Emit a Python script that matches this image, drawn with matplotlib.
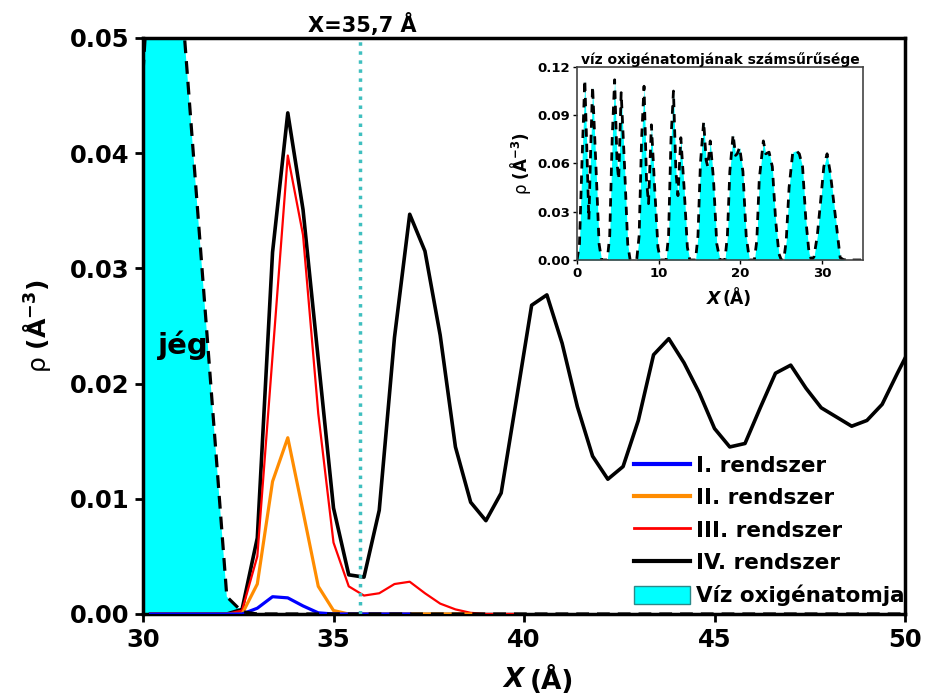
import numpy as np
import matplotlib
matplotlib.use('Agg')
from matplotlib import pyplot as plt
from matplotlib.lines import Line2D
from matplotlib.patches import Patch

# --- adatok (leolvasva) ---
x_grid = np.round(np.arange(30.2, 50.21, 0.4), 1)

rho_IV = [0, 0, 0, 0, 0, 0, 0.0004, 0.0066, 0.0314, 0.0435, 0.0351, 0.0221, 0.0092,
          0.0034, 0.0032, 0.0090, 0.0240, 0.0347, 0.0315, 0.0242, 0.0145, 0.0097, 0.0081,
          0.0105, 0.0186, 0.0268, 0.0277, 0.0235, 0.0180, 0.0137, 0.0117, 0.0128, 0.0168,
          0.0225, 0.0239, 0.0218, 0.0192, 0.0161, 0.0145, 0.0148, 0.0179, 0.0209, 0.0216,
          0.0196, 0.0179, 0.0171, 0.0163, 0.0168, 0.0182, 0.0209, 0.0235]
rho_III = [0, 0, 0, 0, 0, 0, 0.0003, 0.0050, 0.0224, 0.0398, 0.0329, 0.0174, 0.0062,
           0.0024, 0.0016, 0.0018, 0.0026, 0.0028, 0.0018, 0.0009, 0.0004, 0.0001, 0, 0, 0]
rho_II = [0, 0, 0, 0, 0, 0, 0, 0.0026, 0.0115, 0.0153, 0.0089, 0.0024, 0.0003,
          0, 0, 0, 0, 0, 0, 0, 0, 0]
rho_I = [0, 0, 0, 0, 0, 0, 0, 0.0005, 0.0015, 0.0014, 0.0007, 0.0001, 0, 0, 0, 0, 0, 0]

# jég (víz oxigénatomjainak számsűrűsége)
ice_x = [0.0, 0.3, 0.6, 0.95, 1.25, 1.45, 1.65, 1.9, 2.3, 2.7, 3.0,
         3.7, 4.0, 4.3, 4.6, 4.9, 5.1, 5.4, 5.8, 6.2, 6.5,
         7.3, 7.6, 7.9, 8.2, 8.5, 8.75, 9.1, 9.5, 9.9, 10.2,
         10.9, 11.2, 11.5, 11.8, 12.1, 12.35, 12.7, 13.1, 13.5, 13.8,
         14.5, 14.8, 15.1, 15.5, 15.8, 16.0, 16.3, 16.7, 17.1, 17.5,
         18.1, 18.4, 18.7, 19.1, 19.4, 19.6, 19.9, 20.3, 20.7, 21.1,
         21.7, 22.0, 22.3, 22.8, 23.1, 23.5, 23.9, 24.3, 24.7, 25.0,
         25.3, 25.6, 25.95, 26.4, 26.8, 27.2, 27.6, 28.0, 28.4, 28.7,
         29.0, 29.4, 29.8, 30.2, 30.6, 31.0, 31.4, 31.8, 32.2, 32.6, 33.0, 50.0]
ice_y = [0.0, 0.01, 0.06, 0.112, 0.06, 0.025, 0.065, 0.108, 0.06, 0.01, 0.0,
         0.0, 0.015, 0.075, 0.112, 0.06, 0.05, 0.104, 0.06, 0.01, 0.0,
         0.0, 0.015, 0.075, 0.108, 0.05, 0.035, 0.084, 0.045, 0.008, 0.0,
         0.0, 0.015, 0.075, 0.105, 0.055, 0.04, 0.076, 0.045, 0.008, 0.0,
         0.0, 0.015, 0.06, 0.086, 0.062, 0.058, 0.074, 0.05, 0.01, 0.0,
         0.0, 0.015, 0.055, 0.078, 0.065, 0.066, 0.07, 0.055, 0.015, 0.0,
         0.0, 0.012, 0.05, 0.074, 0.066, 0.067, 0.058, 0.025, 0.004, 0.0,
         0.0, 0.012, 0.045, 0.067, 0.068, 0.066, 0.058, 0.025, 0.004, 0.0,
         0.002, 0.015, 0.036, 0.058, 0.066, 0.054, 0.0365, 0.019, 0.0015, 0.0002, 0.0, 0.0]

labels = ['I. rendszer', 'II. rendszer', 'III. rendszer', 'IV. rendszer', 'Víz oxigénatomja']
colors = ['#0000ff', '#ff8c00', '#ff0000', '#000000']
cyan = '#00ffff'
ylab = 'ρ ' + r'$\mathbf{(Å^{-3})}$'

plt.rcParams['font.family'] = ['DejaVu Sans']

fig = plt.figure(figsize=(9.31, 6.97), dpi=100)
ax = fig.add_axes([0.1536, 0.1191, 0.8185, 0.8264])

ax.fill_between(ice_x, ice_y, color=cyan, lw=0, zorder=1)
ax.plot(x_grid[:len(rho_IV)], rho_IV, color=colors[3], lw=2.6, zorder=2)
ax.plot(x_grid[:len(rho_III)], rho_III, color=colors[2], lw=1.6, zorder=3)
ax.plot(x_grid[:len(rho_II)], rho_II, color=colors[1], lw=2.3, zorder=4)
ax.plot(x_grid[:len(rho_I)], rho_I, color=colors[0], lw=2.3, zorder=5)
ax.plot(ice_x, ice_y, color='black', lw=2.3, ls=(0, (4, 2.5)), zorder=6)
ax.axvline(35.7, color='#3fbfbf', lw=2.5, ls=(0, (1, 1.6)), zorder=7)

ax.set_xlim(30, 50)
ax.set_ylim(0, 0.05)
ax.set_xticks([30, 35, 40, 45, 50])
ax.set_yticks([0, 0.01, 0.02, 0.03, 0.04, 0.05])
ax.set_yticklabels(['0.00', '0.01', '0.02', '0.03', '0.04', '0.05'])
ax.tick_params(direction='out', length=6, width=2, labelsize=17.5, pad=4)
for s in ax.spines.values():
    s.set_linewidth(2.5)
for t in ax.get_xticklabels() + ax.get_yticklabels():
    t.set_fontweight('bold')

ax.text(35.75, 0.0502, 'X=35,7 Å', ha='center', va='bottom', fontsize=15, fontweight='bold')
ax.text(30.4, 0.0233, 'jég', ha='left', va='center', fontsize=21, fontweight='bold', zorder=8)

ax.text(0.5, -0.115, 'X', transform=ax.transAxes, ha='right', va='center',
        fontsize=19, fontweight='bold', fontstyle='italic')
ax.text(0.508, -0.115, '(Å)', transform=ax.transAxes, ha='left', va='center',
        fontsize=19, fontweight='bold')
ax.set_ylabel(ylab, fontsize=18, labelpad=12)

handles = [Line2D([], [], color=c, lw=3) for c in colors[:2]] + \
          [Line2D([], [], color=colors[2], lw=2)] + \
          [Line2D([], [], color=colors[3], lw=3)] + \
          [Patch(facecolor=cyan, edgecolor='#2a8a8a', lw=1)]
leg = ax.legend(handles, labels, loc='lower right', bbox_to_anchor=(1.025, -0.02),
                frameon=False, prop={'size': 15.5, 'weight': 'bold'},
                handlelength=2.6, handleheight=0.9, handletextpad=0.3, labelspacing=0.55)

# --- inset ---
axi = fig.add_axes([0.6198, 0.627, 0.3072, 0.277])
axi.fill_between(ice_x, ice_y, color=cyan, lw=0)
axi.plot(ice_x, ice_y, color='black', lw=2.0, ls=(0, (3, 2.5)))
axi.set_xlim(0, 35)
axi.set_ylim(0, 0.12)
axi.set_xticks([0, 10, 20, 30])
axi.set_yticks([0, 0.03, 0.06, 0.09, 0.12])
axi.set_yticklabels(['0.00', '0.03', '0.06', '0.09', '0.12'])
axi.tick_params(direction='out', length=3, width=1, labelsize=9.5, pad=2)
for t in axi.get_xticklabels() + axi.get_yticklabels():
    t.set_fontweight('bold')
for s in axi.spines.values():
    s.set_linewidth(1.2)
    s.set_color('#444444')
axi.set_title('víz oxigénatomjának számsűrűsége', fontsize=10, fontweight='bold', pad=2)
axi.text(0.5, -0.2, 'X', transform=axi.transAxes, ha='right', va='center',
         fontsize=12.5, fontweight='bold', fontstyle='italic')
axi.text(0.51, -0.2, '(Å)', transform=axi.transAxes, ha='left', va='center',
         fontsize=12.5, fontweight='bold')
axi.set_ylabel(ylab, fontsize=12, labelpad=3)

fig.savefig('out.png', dpi=100)
